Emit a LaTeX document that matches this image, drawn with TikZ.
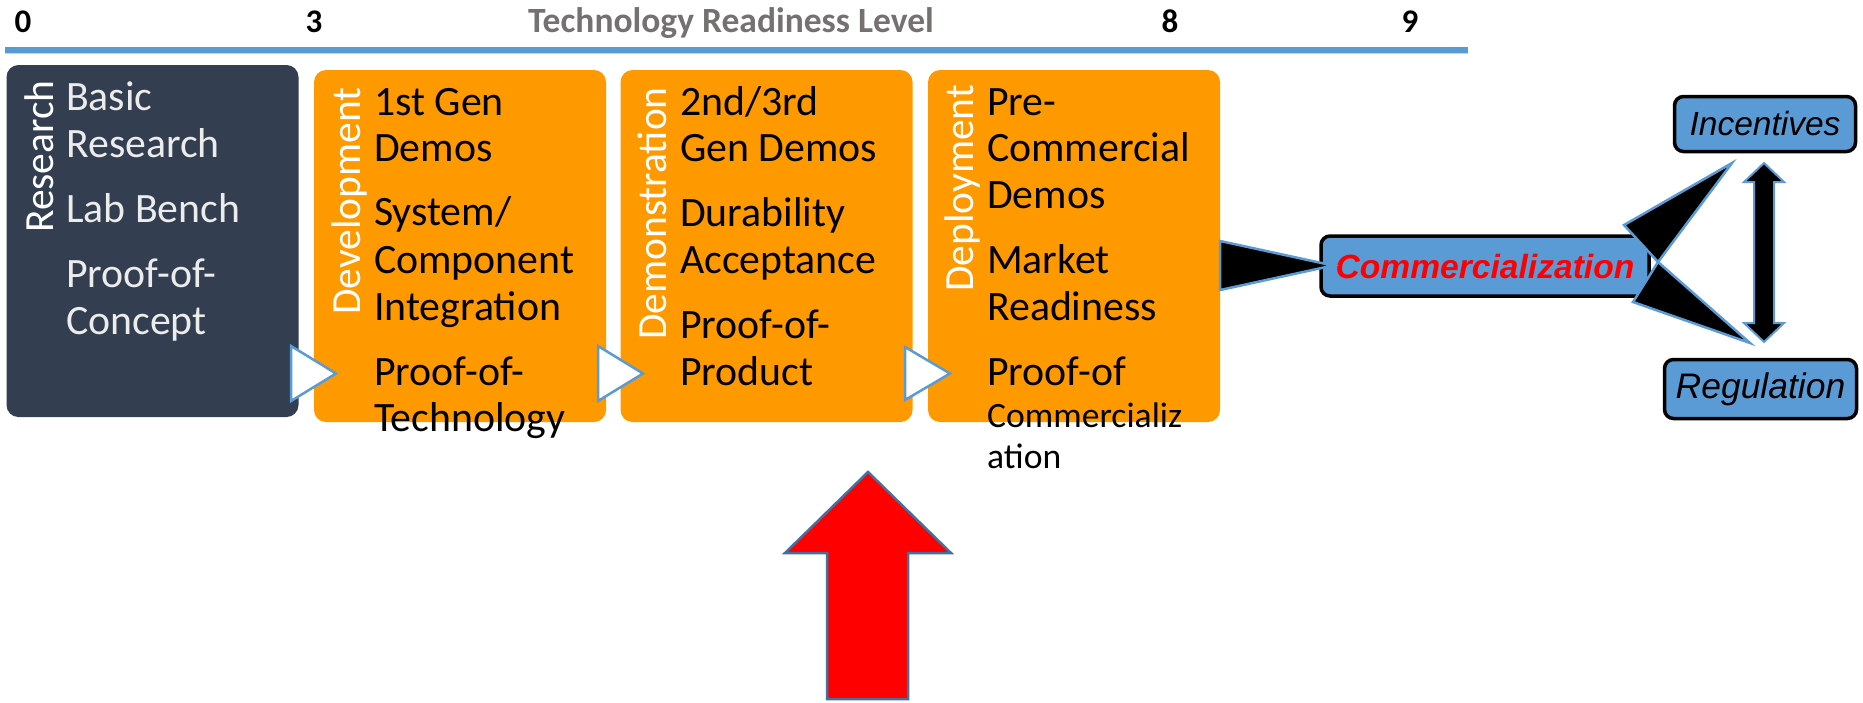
\documentclass[tikz,border=0pt]{standalone}
\usepackage{fontspec}
\setmainfont{Carlito}
\newfontfamily\arialf{Liberation Sans}
\definecolor{darkbox}{RGB}{51,63,80}
\definecolor{orangebox}{RGB}{255,153,0}
\definecolor{boxblue}{RGB}{91,155,213}
\definecolor{lightline}{RGB}{189,215,238}
\definecolor{titlegray}{RGB}{118,113,113}
\definecolor{restext}{RGB}{236,236,236}
\definecolor{arrowedge}{RGB}{65,113,156}
\begin{document}
\begin{tikzpicture}[x=1pt,y=-1pt,
  stage/.style={rounded corners=12pt, inner sep=0pt, minimum width=292pt, minimum height=352pt},
  item/.style={anchor=base west, inner sep=0pt, font=\fontsize{41.8}{46}\selectfont},
  smallitem/.style={anchor=base west, inner sep=0pt, font=\fontsize{35.6}{41}\selectfont},
  vlabel/.style={anchor=base west, rotate=90, inner sep=0pt, text=white, font=\fontsize{41.5}{46}\selectfont},
  level/.style={anchor=base, inner sep=0pt, font=\fontsize{33}{40}\selectfont\bfseries},
  bluebox/.style={draw=black, line width=3.5pt, fill=boxblue, rounded corners=9pt, inner sep=0pt},
  flowtri/.style={fill=white, draw=boxblue, line width=2.5pt, line join=miter},
  blacktri/.style={fill=black, draw=boxblue, line width=2.5pt, line join=miter}
]
\useasboundingbox (0,0) rectangle (1863,702);

% TRL scale
\node[level] (l0) at (23,32) {0};
\node[level] (l3) at (314,32) {3};
\node[level, text=titlegray, font=\fontsize{35.5}{40}\selectfont\bfseries] (ltitle) at (731,32) {Technology Readiness Level};
\node[level] (l8) at (1170,32) {8};
\node[level] (l9) at (1410,32) {9};
\coordinate (lineL) at (5,50);
\coordinate (lineR) at (1468,50);
\draw[lightline, line width=1.2pt] ([yshift=-3.8pt]lineL) -- ([yshift=-3.8pt]lineR);
\draw[boxblue, line width=6pt] (lineL) -- (lineR);

% stage boxes
\node[stage, fill=darkbox] (research) at (152.5,241) {};
\node[stage, fill=orangebox] (dev) at (460,246) {};
\node[stage, fill=orangebox] (demo) at (766.5,246) {};
\node[stage, fill=orangebox] (depl) at (1074,246) {};

% vertical labels
\node[vlabel] (vres) at (53,233) {Research};
\node[vlabel] (vdev) at (360,315) {Development};
\node[vlabel] (vdemo) at (666,340) {Demonstration};
\node[vlabel] (vdepl) at (973,292) {Deployment};

% research items
\node[item, text=restext] (r1) at (66,110.7) {Basic};
\node[item, text=restext] (r2) at (66,157) {Research};
\node[item, text=restext] (r3) at (66,222.7) {Lab Bench};
\node[item, text=restext] (r4) at (66,287) {Proof-of-};
\node[item, text=restext] (r5) at (66,334) {Concept};

% development items
\node[item] (d1) at (374,115) {1st Gen};
\node[item] (d2) at (374,161) {Demos};
\node[item] (d3) at (374,225.7) {System/};
\node[item] (d4) at (374,273) {Component};
\node[item] (d5) at (374,320) {Integration};
\node[item] (d6) at (374,385) {Proof-of-};
\node[item] (d7) at (374,431) {Technology};

% demonstration items
\node[item] (m1) at (680,115) {2nd/3rd};
\node[item] (m2) at (680,161.5) {Gen Demos};
\node[item] (m3) at (680,226.5) {Durability};
\node[item] (m4) at (680,273) {Acceptance};
\node[item] (m5) at (680,338) {Proof-of-};
\node[item] (m6) at (680,385) {Product};

% deployment items
\node[item] (p1) at (987,115) {Pre-};
\node[item] (p2) at (987,161.5) {Commercial};
\node[item] (p3) at (987,208) {Demos};
\node[item] (p4) at (987,273) {Market};
\node[item] (p5) at (987,320) {Readiness};
\node[item] (p6) at (987,385) {Proof-of};
\node[smallitem] (p7) at (987,427) {Commercializ};
\node[smallitem] (p8) at (987,468) {ation};

% flow triangles between stages
\draw[flowtri] (291,346) -- (291,401) -- (336,373.5) -- cycle;
\draw[flowtri] (598,346) -- (598,401) -- (643,373.5) -- cycle;
\draw[flowtri] (905,347) -- (905,400) -- (950,373.5) -- cycle;

% commercialization and policy boxes
\node[bluebox, minimum width=328pt, minimum height=60pt] (comm) at (1485,266)
  {\arialf\bfseries\itshape\fontsize{33.6}{40}\selectfont\textcolor{red}{Commercialization}};
\node[bluebox, minimum width=181pt, minimum height=55pt] (inc) at (1765,124)
  {\arialf\itshape\fontsize{33.5}{40}\selectfont Incentives};
\node[bluebox, minimum width=192pt, minimum height=59pt] (reg) at (1760.5,389)
  {\arialf\itshape\fontsize{35.5}{40}\selectfont\raisebox{-2pt}{Regulation}};

% black arrow heads
\draw[blacktri] (depl.east |- 0,241) -- (depl.east |- 0,290) -- (1333,265.5) -- cycle;
\draw[blacktri] (1624,225) -- (1732,163) -- (1658,262) -- cycle;
\draw[blacktri] (1658,262) -- (1633,302) -- (1750,343) -- cycle;

% double arrow between incentives and regulation
\draw[fill=black, draw=boxblue, line width=2pt, line join=miter]
  (1764,163) -- (1784,182) -- (1774,182) -- (1774,323) -- (1784,323) -- (1764,342)
  -- (1744,323) -- (1754,323) -- (1754,182) -- (1744,182) -- cycle;

% red up arrow
\draw[fill=red, draw=arrowedge, line width=2.5pt, line join=miter]
  (868,472) -- (951,553) -- (908,553) -- (908,699) -- (827,699) -- (827,553) -- (785,553) -- cycle;
\end{tikzpicture}
\end{document}
